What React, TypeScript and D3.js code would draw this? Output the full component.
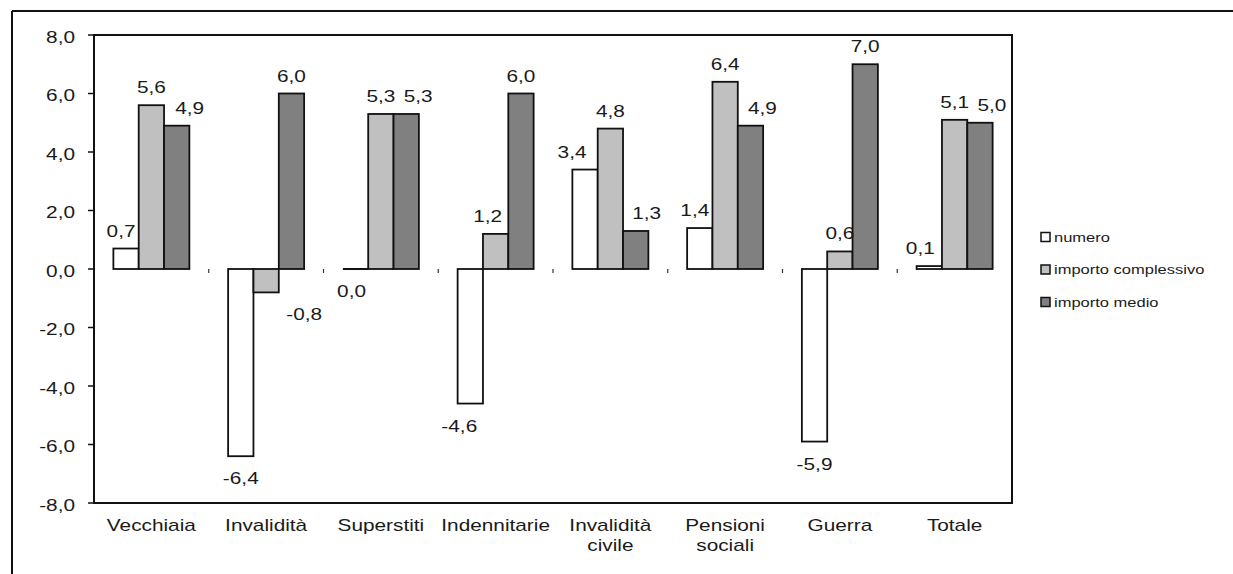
import React from "react";
import * as d3 from "d3";

const categories = ["Vecchiaia", "Invalidità", "Superstiti", "Indennitarie", "Invalidità\ncivile", "Pensioni\nsociali", "Guerra", "Totale"];
const seriesNames = ["numero", "importo complessivo", "importo medio"];
const numero = [0.7, -6.4, 0.0, -4.6, 3.4, 1.4, -5.9, 0.1];
const importoComplessivo = [5.6, -0.8, 5.3, 1.2, 4.8, 6.4, 0.6, 5.1];
const importoMedio = [4.9, 6.0, 5.3, 6.0, 1.3, 4.9, 7.0, 5.0];
const yTicks = [8, 6, 4, 2, 0, -2, -4, -6, -8];

// label nudges (style, px) per series / category, mimicking the original label placement
const labelNudge = [
  [-5, 0, -4, -11, -13, -5, 0, -9],
  [0, 38, 0, -8, 0, 0, 0, 0],
  [13, 0, 12, 0, 11, 12, 0, 12],
];

const W = 1233, H = 574;
const plot = { left: 94, right: 1012, top: 35, bottom: 503 };
const colors = ["#ffffff", "#c0c0c0", "#808080"];
const FONT = "'Liberation Sans', Arial, sans-serif";
const SX = 1.3;
const fmt = (v: number) => Math.abs(v).toFixed(1) === "0.0" ? "0,0" : v.toFixed(1).replace(".", ",");

function T({ x, y, anchor = "middle", size = 16, sx = SX, children }: any) {
  return (
    <text transform={`translate(${x},${y}) scale(${sx},1)`} textAnchor={anchor} fontSize={size} fontFamily={FONT} fill="#1a1a1a">
      {children}
    </text>
  );
}

export default function App() {
  const series = [numero, importoComplessivo, importoMedio];
  const n = categories.length;
  const p = 1 - 76 / ((plot.right - plot.left) / n);
  const x0 = d3.scaleBand<string>().domain(categories).range([plot.left, plot.right]).paddingInner(p).paddingOuter(p / 2);
  const x1 = d3.scaleBand<number>().domain([0, 1, 2]).range([0, x0.bandwidth()]);
  const y = d3.scaleLinear().domain([-8, 8]).range([plot.bottom, plot.top]);
  const step = x0.step();

  return (
    <svg width={W} height={H} style={{ position: "absolute", left: 0, top: 0, background: "#fff" }}>
      {/* outer frame */}
      <line x1={12} y1={11} x2={W} y2={11} stroke="#111" strokeWidth={2} />
      <line x1={12} y1={11} x2={12} y2={H} stroke="#111" strokeWidth={2} />

      {/* plot box */}
      <rect x={plot.left} y={plot.top} width={plot.right - plot.left} height={plot.bottom - plot.top} fill="none" stroke="#111" strokeWidth={2} />

      {/* y ticks */}
      {yTicks.map((t) => (
        <g key={t}>
          <line x1={plot.left - 6} x2={plot.left} y1={y(t)} y2={y(t)} stroke="#111" strokeWidth={1.5} />
          <T x={75} y={y(t) + 7.5} anchor="end">{fmt(t)}</T>
        </g>
      ))}

      {/* category ticks on zero line */}
      {d3.range(1, n).map((k) => (
        <line key={k} x1={plot.left + k * step} x2={plot.left + k * step} y1={y(0)} y2={y(0) + 4} stroke="#333" strokeWidth={1.2} />
      ))}

      {/* bars */}
      {series.map((vals, si) =>
        vals.map((v, ci) => {
          const bx = (x0(categories[ci]) as number) + (x1(si) as number);
          const top = Math.min(y(v), y(0));
          const h = Math.abs(y(v) - y(0));
          if (h < 1) {
            return <line key={`${si}-${ci}`} x1={bx} x2={bx + x1.bandwidth()} y1={y(0)} y2={y(0)} stroke="#111" strokeWidth={2} />;
          }
          return (
            <rect key={`${si}-${ci}`} x={bx} y={top} width={x1.bandwidth()} height={h} fill={colors[si]} stroke="#111" strokeWidth={1.8} />
          );
        })
      )}

      {/* data labels */}
      {series.map((vals, si) =>
        vals.map((v, ci) => {
          const bx = (x0(categories[ci]) as number) + (x1(si) as number) + x1.bandwidth() / 2 + labelNudge[si][ci];
          const ly = v > 0 ? y(v) - 12 : y(v) + 28;
          return (
            <T key={`l${si}-${ci}`} x={bx} y={ly}>{fmt(v)}</T>
          );
        })
      )}

      {/* category labels */}
      {categories.map((c) => {
        const cx = (x0(c) as number) + x0.bandwidth() / 2;
        return c.split("\n").map((line, li) => (
          <T key={c + li} x={cx} y={531 + li * 20}>{line}</T>
        ));
      })}

      {/* legend */}
      {seriesNames.map((s, i) => {
        const cy = 237 + i * 32.5;
        return (
          <g key={s}>
            <rect x={1041} y={cy - 4.5} width={9} height={9} fill={colors[i]} stroke="#111" strokeWidth={1.5} />
            <T x={1054} y={cy + 4.5} anchor="start" size={13} sx={1.27}>{s}</T>
          </g>
        );
      })}
    </svg>
  );
}
